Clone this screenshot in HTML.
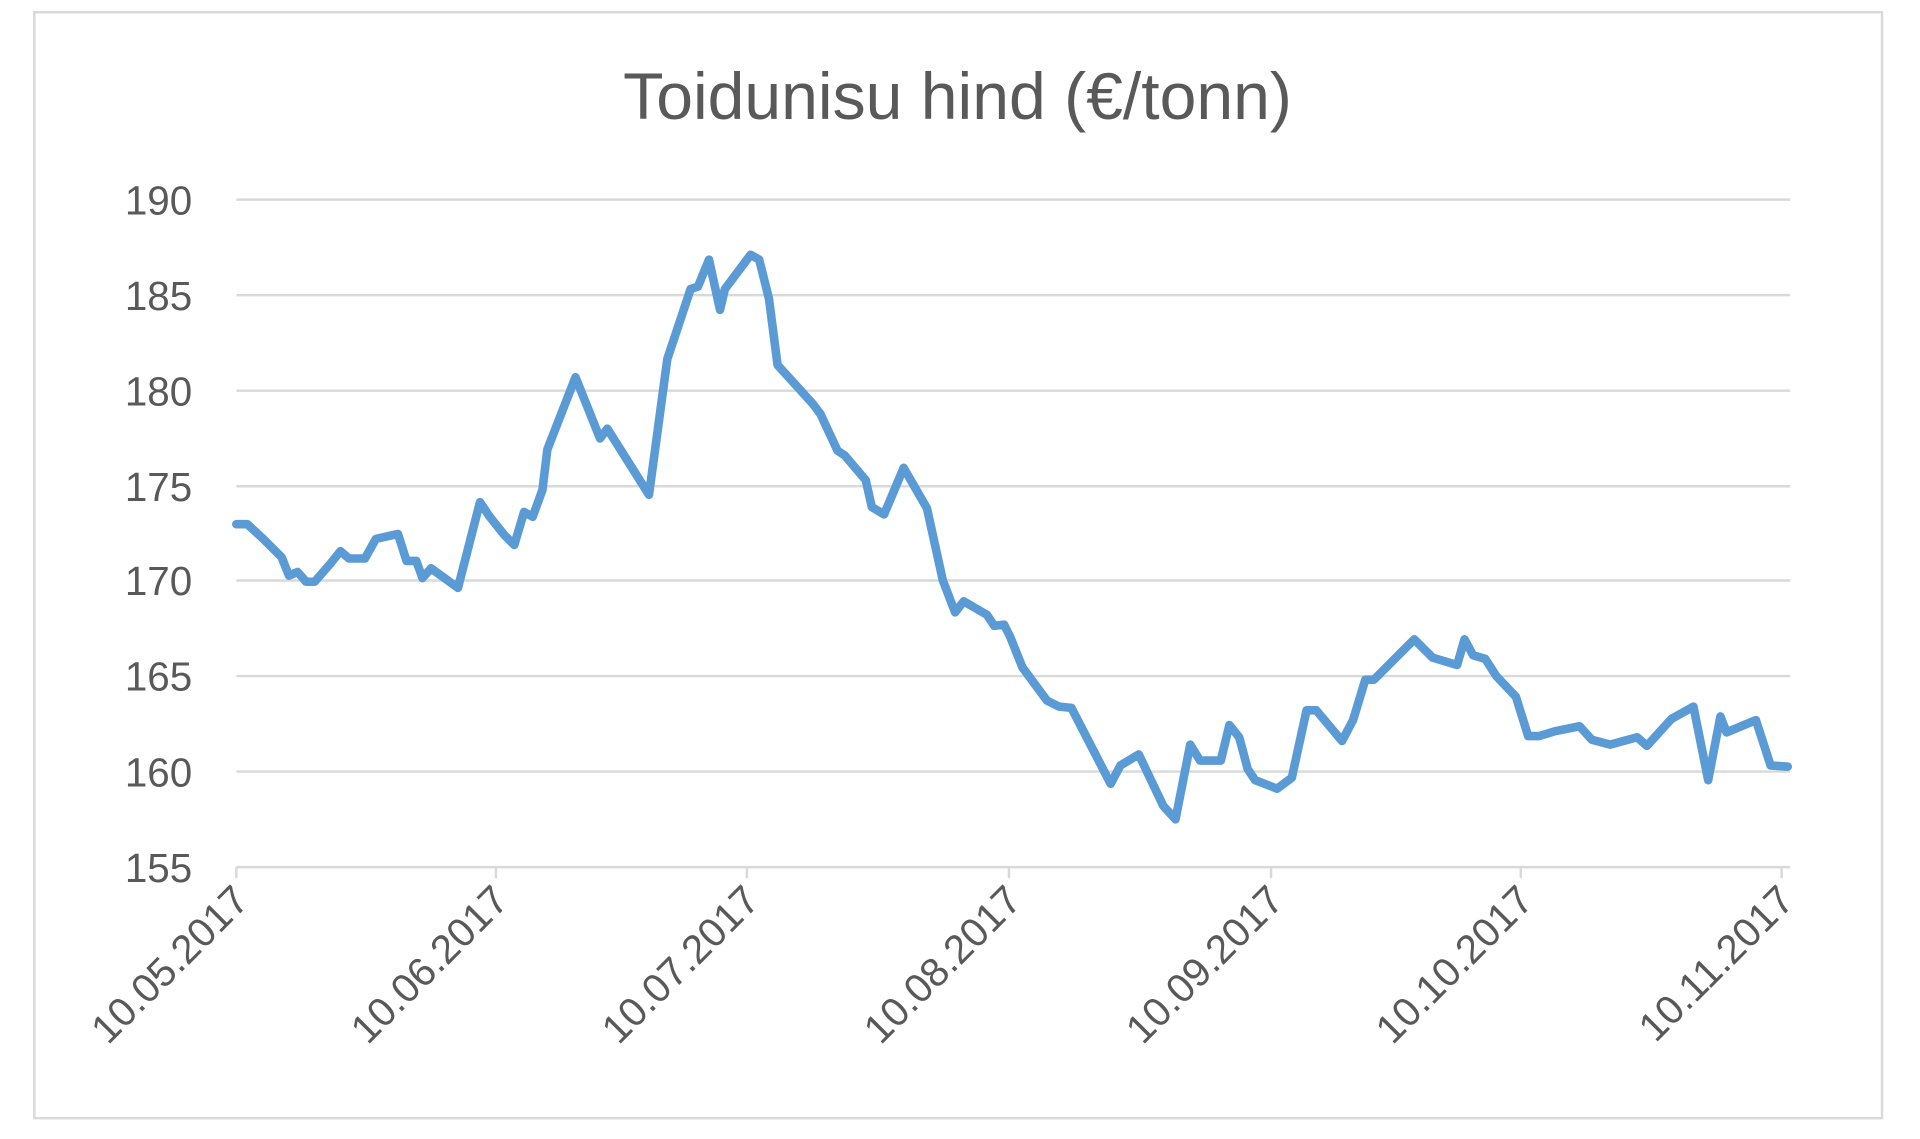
<!DOCTYPE html>
<html><head><meta charset="utf-8"><style>
html,body{margin:0;padding:0;background:#fff;}
svg{display:block;}
text{font-family:"Liberation Sans",sans-serif;fill:#595959;}
</style></head><body>
<svg width="1920" height="1139" viewBox="0 0 1568 930" preserveAspectRatio="none" xmlns="http://www.w3.org/2000/svg">
<rect x="0" y="0" width="1568" height="930" fill="#fff"/>
<rect x="28" y="10" width="1509" height="903" fill="none" stroke="#d9d9d9" stroke-width="2"/>
<text x="782" y="97" font-size="54" text-anchor="middle">Toidunisu hind (€/tonn)</text>
<g stroke="#d9d9d9" stroke-width="2">
<line x1="193" y1="163" x2="1462" y2="163"/>
<line x1="193" y1="241" x2="1462" y2="241"/>
<line x1="193" y1="319" x2="1462" y2="319"/>
<line x1="193" y1="397" x2="1462" y2="397"/>
<line x1="193" y1="474" x2="1462" y2="474"/>
<line x1="193" y1="552" x2="1462" y2="552"/>
<line x1="193" y1="630" x2="1462" y2="630"/>
<line x1="193" y1="708" x2="1462" y2="708"/>
<line x1="193" y1="708" x2="193" y2="717"/>
<line x1="405" y1="708" x2="405" y2="717"/>
<line x1="610" y1="708" x2="610" y2="717"/>
<line x1="824" y1="708" x2="824" y2="717"/>
<line x1="1038" y1="708" x2="1038" y2="717"/>
<line x1="1242" y1="708" x2="1242" y2="717"/>
<line x1="1455" y1="708" x2="1455" y2="717"/>
</g>
<g font-size="33" text-anchor="end">
<text x="157" y="175">190</text>
<text x="157" y="253">185</text>
<text x="157" y="331">180</text>
<text x="157" y="409">175</text>
<text x="157" y="486">170</text>
<text x="157" y="564">165</text>
<text x="157" y="642">160</text>
<text x="157" y="720">155</text>
</g>
<g font-size="33" text-anchor="end">
<text transform="translate(205,737) rotate(-45)">10.05.2017</text>
<text transform="translate(417,737) rotate(-45)">10.06.2017</text>
<text transform="translate(622,737) rotate(-45)">10.07.2017</text>
<text transform="translate(836,737) rotate(-45)">10.08.2017</text>
<text transform="translate(1050,737) rotate(-45)">10.09.2017</text>
<text transform="translate(1254,737) rotate(-45)">10.10.2017</text>
<text transform="translate(1467,737) rotate(-45)">10.11.2017</text>
</g>
<polyline fill="none" stroke="#5b9bd5" stroke-width="7" stroke-linejoin="round" stroke-linecap="round" points="193,428 202,428 215,440 230,455 236,470 243,467 250,475 257,475 270,460 278,450 285,456 298,456 307,440 325,436 332,458 340,458 345,472 352,464 374,480 392,410 400,422 412,437 420,445 428,418 435,422 443,400 447,367 470,308 490,358 496,350 530,404 545,293 564,236 570,234 579,212 588,253 592,236 613,208 620,212 628,244 635,298 664,330 670,338 684,368 690,372 707,392 712,414 722,420 738,382 757,415 770,474 780,500 787,491 806,502 812,511 820,510 825,520 835,545 855,572 865,577 875,578 907,640 915,625 930,616 950,658 960,669 972,608 980,621 997,621 1004,592 1012,602 1019,628 1025,637 1043,644 1055,635 1067,580 1075,580 1096,605 1105,588 1115,555 1122,555 1155,522 1170,537 1190,543 1196,522 1203,535 1213,538 1222,552 1238,569 1248,601 1257,601 1270,597 1290,593 1300,604 1315,608 1337,602 1345,609 1355,598 1365,587 1383,577 1395,637 1405,585 1410,598 1434,588 1446,625 1460,626"/>
</svg>
</body></html>
